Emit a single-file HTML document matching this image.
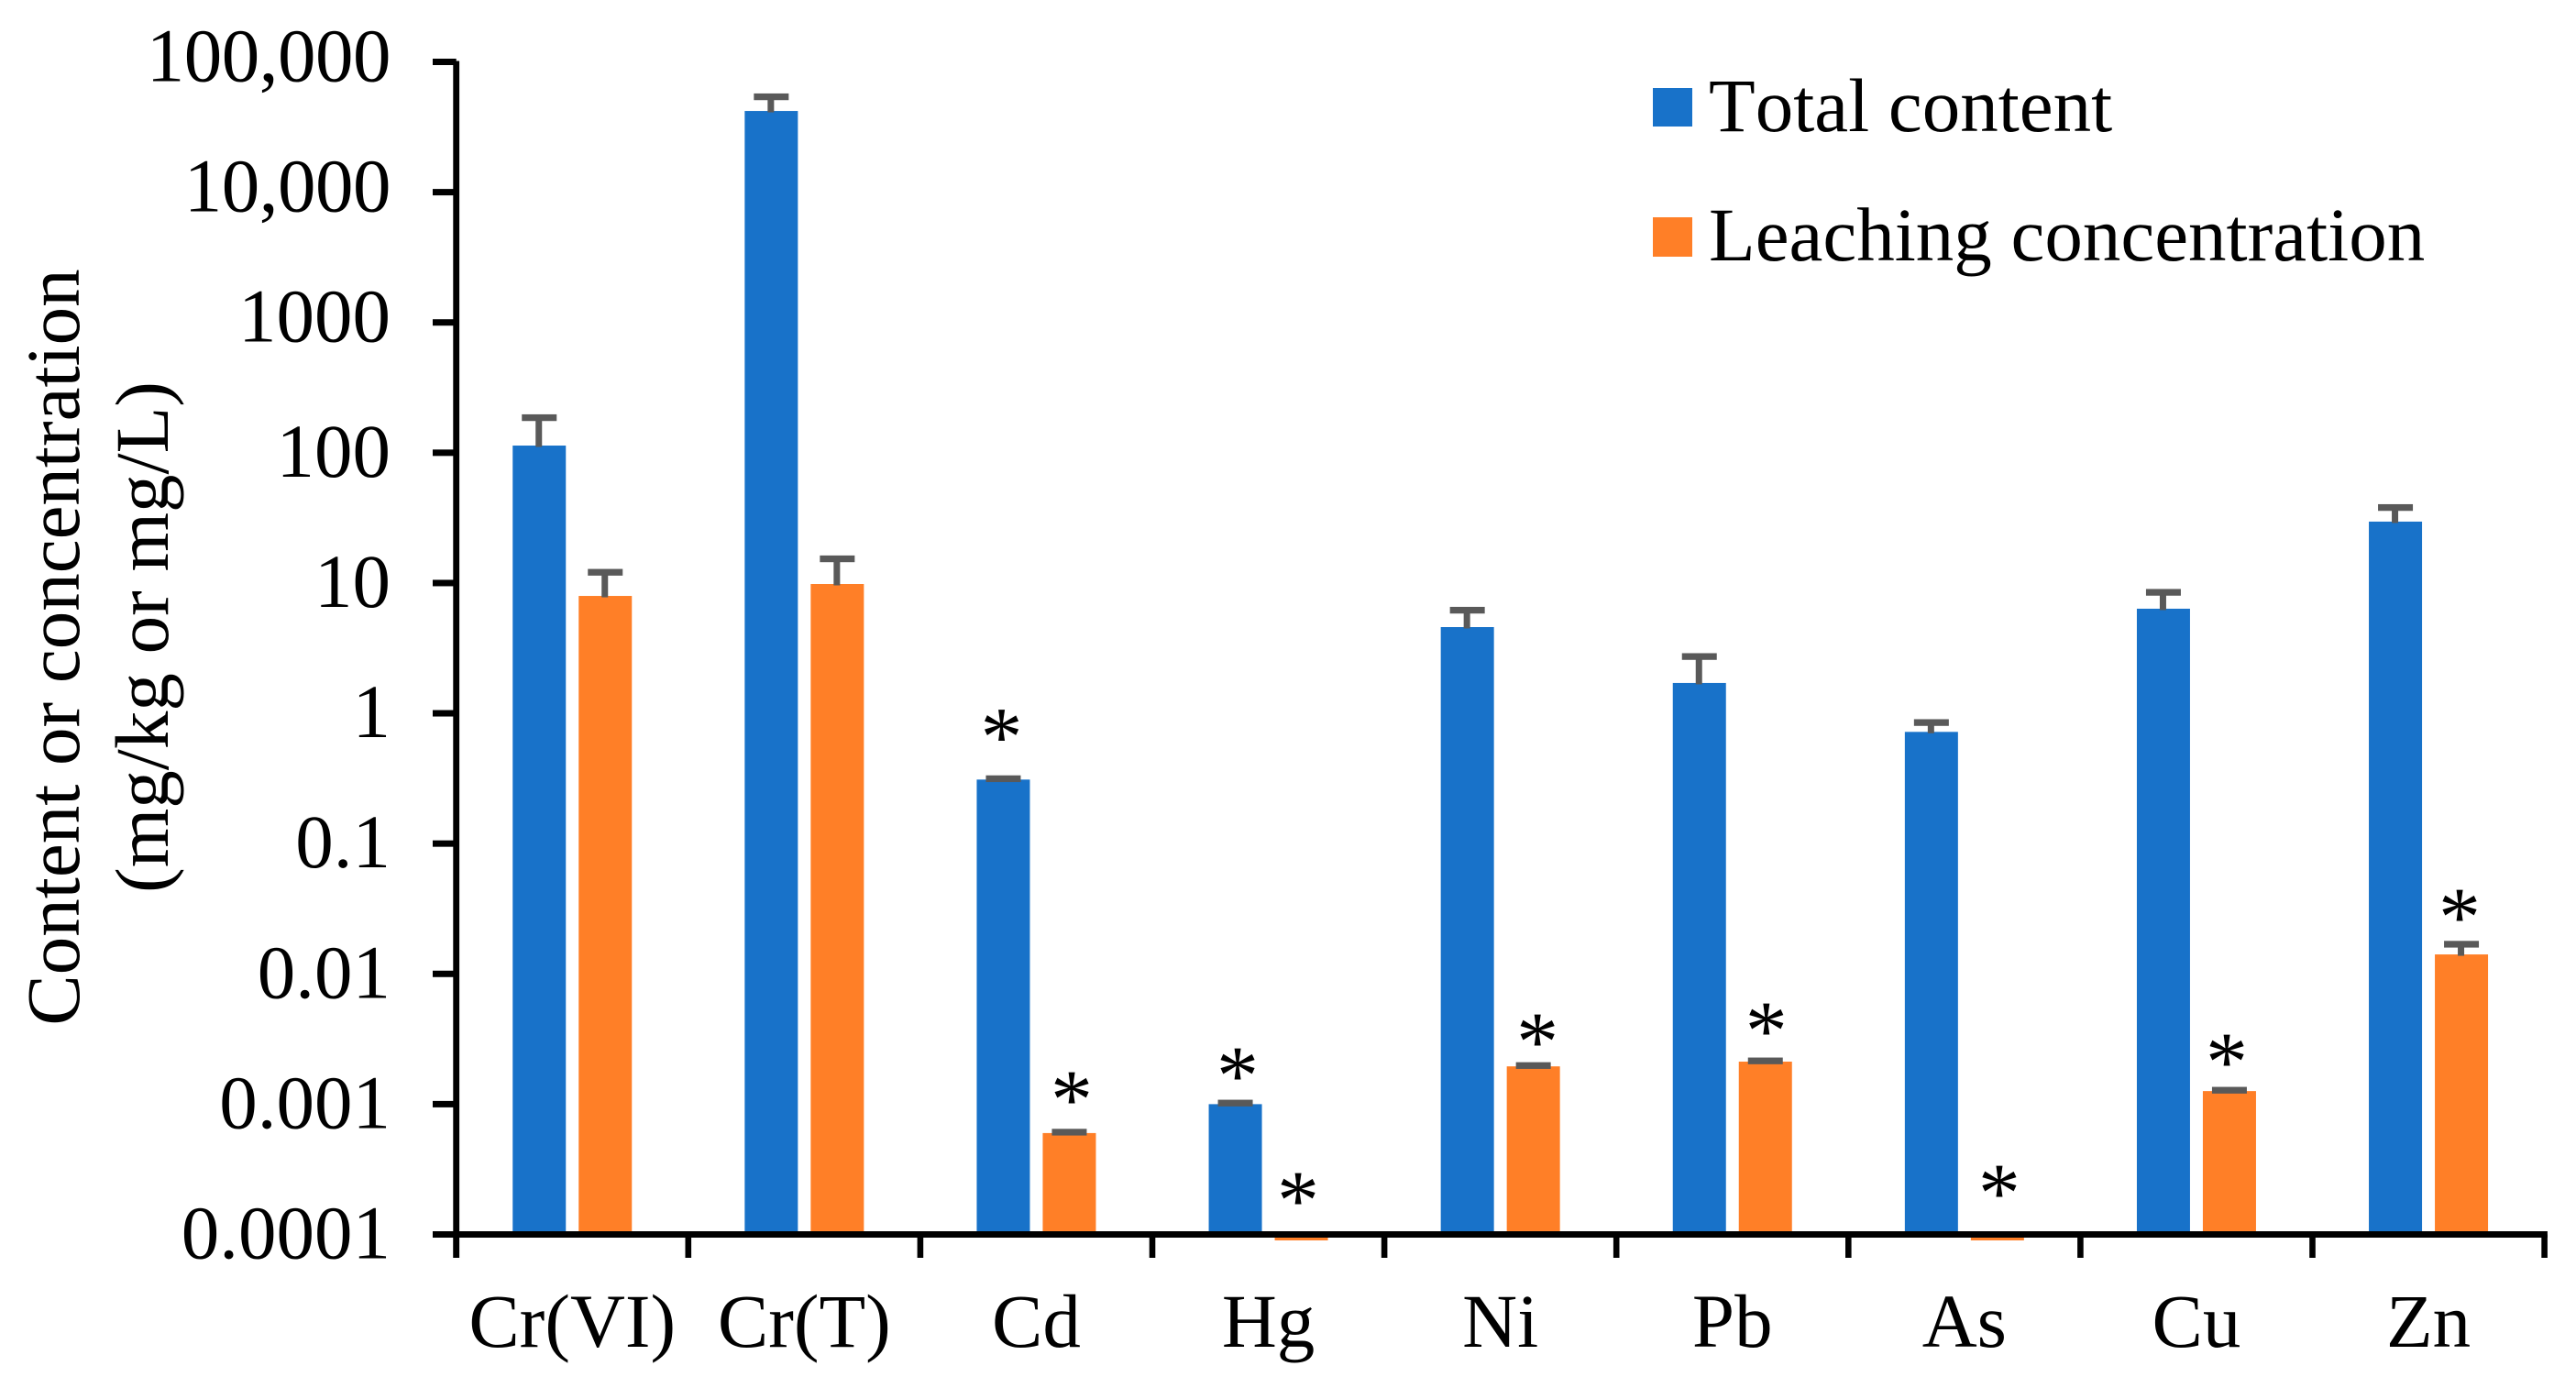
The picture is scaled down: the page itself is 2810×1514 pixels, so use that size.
<!DOCTYPE html>
<html lang="en">
<head>
<meta charset="utf-8">
<title>Total content and leaching concentration of metals</title>
<style>
  html, body { margin: 0; padding: 0; background: #fff; }
  svg { display: block; }
  text { font-family: "Liberation Serif", "Times New Roman", serif; font-size: 83px; fill: #000; font-kerning: none; }
</style>
</head>
<body>
<svg id="chart" xmlns="http://www.w3.org/2000/svg" width="2810" height="1514" viewBox="0 0 2810 1514">
  <rect x="0" y="0" width="2810" height="1514" fill="#ffffff"/>
  <g id="bars"></g>
  <g id="errors"></g>
  <g id="axes"></g>
  <g id="stars"></g>
  <text transform="translate(86,706) rotate(-90)" text-anchor="middle">Content or concentration</text>
  <text transform="translate(183,695) rotate(-90)" text-anchor="middle">(mg/kg or mg/L)</text>
  <g>
    <rect x="1803" y="96" width="43" height="42" fill="#1872C9"/>
    <text x="1864" y="143">Total content</text>
    <rect x="1803" y="237" width="43" height="43" fill="#FF7F27"/>
    <text x="1864" y="284">Leaching concentration</text>
  </g>
</svg>
<script>
// ---- Chart data ----
const categories = ['Cr(VI)', 'Cr(T)', 'Cd', 'Hg', 'Ni', 'Pb', 'As', 'Cu', 'Zn'];
const totalContent = [113.5, 42000, 0.31, 0.0010, 4.59, 1.71, 0.72, 6.35, 29.6];
const totalUpper = [186, 54000, 0.315, 0.00102, 6.19, 2.73, 0.85, 8.49, 38];
const leachingConc = [7.96, 9.83, 0.0006, 0.00009, 0.00195, 0.00212, 0.00009, 0.00126, 0.0141];
const leachingUpper = [12.1, 15.35, 0.00061, null, 0.00198, 0.00215, null, 0.00128, 0.0169];
const totalStars = [false, false, true, true, false, false, false, false, false];
const leachingStars = [false, false, true, true, true, true, true, true, true];
const yTickValues = [100000, 10000, 1000, 100, 10, 1, 0.1, 0.01, 0.001, 0.0001];
const yTickLabels = ['100,000', '10,000', '1000', '100', '10', '1', '0.1', '0.01', '0.001', '0.0001'];

// ---- Layout ----
const NS = 'http://www.w3.org/2000/svg';
const plotLeft = 497.7, plotRight = 2775.6;
const yTop = 67.5, yBottom = 1346.5;
const logMax = 5, logMin = -4;
const barW = 58, barOffset = 36;
const BLUE = '#1872C9', ORANGE = '#FF7F27', GREY = '#595959', BLACK = '#000000';

function xBand(i) { return plotLeft + (plotRight - plotLeft) * i / categories.length; }
function xCenter(i) { return xBand(i + 0.5); }
function yScale(v) { return yTop + (logMax - Math.log10(v)) * (yBottom - yTop) / (logMax - logMin); }

function el(parent, tag, attrs, txt) {
  const n = document.createElementNS(NS, tag);
  Object.keys(attrs).forEach(function (k) { n.setAttribute(k, attrs[k]); });
  if (txt !== undefined) n.textContent = txt;
  parent.appendChild(n);
  return n;
}

const barsG = document.getElementById('bars');
const errG = document.getElementById('errors');
const axesG = document.getElementById('axes');
const starsG = document.getElementById('stars');

// Hand placement of each asterisk relative to its bar: [dx, height above the bar/whisker]
const starPlacement = {
  'total-Cd': [-2, 58], 'total-Hg': [2.5, 42],
  'leaching-Cd': [2.5, 48], 'leaching-Hg': [-3.5, 49.5], 'leaching-Ni': [4.5, 38],
  'leaching-Pb': [1, 45], 'leaching-As': [2, 57.5], 'leaching-Cu': [-3, 43], 'leaching-Zn': [-2, 42]
};

function drawSeries(key, values, uppers, stars, color, dir) {
  categories.forEach(function (cat, i) {
    const cx = xCenter(i) + dir * barOffset;
    const yv = yScale(values[i]);
    const y0 = yBottom;
    const bar = el(barsG, 'rect', { x: cx - barW / 2, y: Math.min(yv, y0), width: barW, height: Math.abs(y0 - yv), fill: color });
    
    

    let topY = Math.min(yv, y0);
    if (uppers[i] !== null) {
      const yu = yScale(uppers[i]);
      topY = yu;
      const stem = el(errG, 'rect', { x: cx - 4, y: yu, width: 7, height: Math.max(yv - yu + 1.5, 0), fill: GREY });
      
      
      const cap = el(errG, 'rect', { x: cx - 19, y: yu - 3.6, width: 38, height: 7.3, fill: GREY });
      
      
    }

    if (stars[i]) {
      const place = starPlacement[key + '-' + cat] || [0, 42];
      const star = el(starsG, 'text', { x: cx + place[0], y: topY - place[1] + 43, 'text-anchor': 'middle', 'font-size': '92', style: 'font-size:92px' }, '*');
      
      
    }
  });
}

drawSeries('total', totalContent, totalUpper, totalStars, BLUE, -1);
drawSeries('leaching', leachingConc, leachingUpper, leachingStars, ORANGE, 1);

// Y axis
const yAxisLine = el(axesG, 'rect', { x: plotLeft - 3.4, y: yTop - 1, width: 6.8, height: 1372 - yTop + 1, fill: BLACK });



yTickValues.forEach(function (v, i) {
  const y = yScale(v);
  const tick = el(axesG, 'rect', { x: 472, y: y - 3.5, width: plotLeft - 472, height: 7, fill: BLACK });
  
  
  const lab = el(axesG, 'text', { x: 426, y: y + (v >= 1000 ? 21 : 26), 'text-anchor': 'end', style: v >= 10000 ? 'letter-spacing:-0.5px' : '' }, yTickLabels[i]);
  
  
});

// X axis
const xAxisLine = el(axesG, 'rect', { x: 472, y: yBottom - 3.5, width: plotRight + 3.3 - 472, height: 7, fill: BLACK });



for (let i = 0; i <= categories.length; i++) {
  const xt = xBand(i);
  const xtick = el(axesG, 'rect', { x: xt - 3.3, y: yBottom, width: 6.6, height: 1372 - yBottom, fill: BLACK });
  
  
}

categories.forEach(function (cat, i) {
  const xl = el(axesG, 'text', { x: xCenter(i), y: 1469, 'text-anchor': 'middle' }, cat);
  
  
});
</script>
</body>
</html>
